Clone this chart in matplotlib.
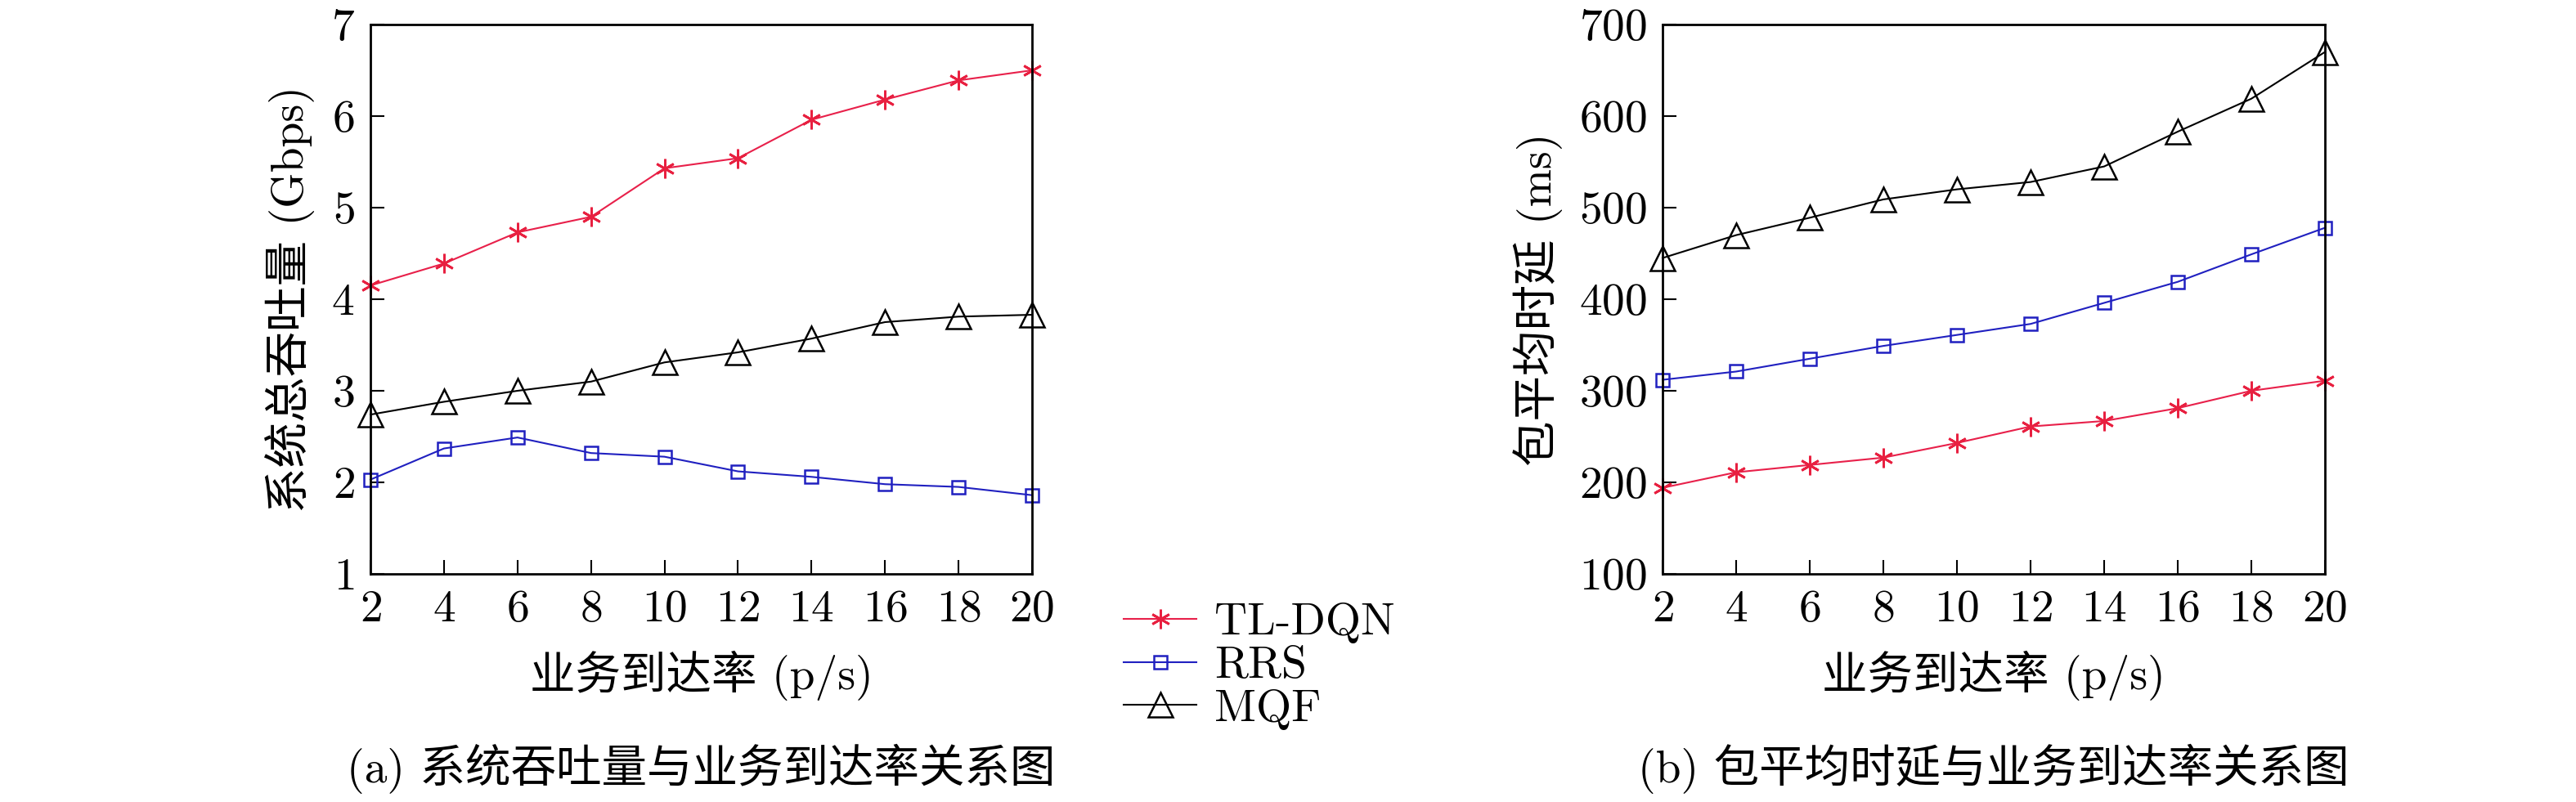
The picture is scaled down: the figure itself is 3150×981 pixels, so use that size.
import matplotlib
matplotlib.use("Agg")
import matplotlib.pyplot as plt

plt.rcParams['font.family'] = ['cmr10', 'Noto Sans CJK SC']
plt.rcParams['axes.formatter.use_mathtext'] = True
plt.rcParams['mathtext.fontset'] = 'cm'

rate = [2, 4, 6, 8, 10, 12, 14, 16, 18, 20]
thr_tl = [4.15, 4.39, 4.73, 4.90, 5.43, 5.54, 5.96, 6.18, 6.39, 6.50]
thr_rrs = [2.03, 2.37, 2.49, 2.32, 2.28, 2.12, 2.06, 1.98, 1.95, 1.86]
thr_mqf = [2.74, 2.88, 3.00, 3.10, 3.31, 3.42, 3.57, 3.75, 3.81, 3.83]
del_tl = [194, 211, 219, 227, 243, 261, 267, 281, 300, 311]
del_rrs = [312, 321, 335, 349, 361, 373, 396, 419, 449, 478]
del_mqf = [445, 470, 489, 509, 520, 528, 545, 583, 619, 670]
labels = ['TL-DQN', 'RRS', 'MQF']

fig = plt.figure(figsize=(31.5, 9.81), dpi=100)
fs = 40
ax1 = fig.add_axes([453/3150, 1 - 702/981, (1262 - 453)/3150, (702 - 30)/981])
ax2 = fig.add_axes([2033/3150, 1 - 702/981, (2843 - 2033)/3150, (702 - 30)/981])

def draw(ax, a, b, c):
    hs = []
    hs += ax.plot(rate, a, color='#e8204a', lw=1.5, marker=(6, 2, 0), ms=17,
                  mec='#e82040', mew=2.0, clip_on=False)
    hs += ax.plot(rate, b, color='#2020c0', lw=1.5, marker='s', ms=12,
                  mfc='none', mec='#2020c0', mew=1.8, clip_on=False)
    hs += ax.plot(rate, c, color='black', lw=1.5, marker='^', ms=21,
                  mfc='none', mec='black', mew=1.8, clip_on=False)
    ax.set_xlim(2, 20)
    ax.set_xticks(rate)
    ax.tick_params(direction='in', labelsize=fs, length=12, width=1.5,
                   pad=14)
    for s in ax.spines.values():
        s.set_linewidth(2)
    return hs

hs = draw(ax1, thr_tl, thr_rrs, thr_mqf)
ax1.set_ylim(1, 7)
ax1.set_ylabel('系统总吞吐量 (Gbps)', fontsize=fs, labelpad=14)
ax1.set_xlabel('业务到达率 (p/s)', fontsize=fs, labelpad=18)

draw(ax2, del_tl, del_rrs, del_mqf)
ax2.set_ylim(100, 700)
ax2.set_ylabel('包平均时延 (ms)', fontsize=fs, labelpad=14)
ax2.set_xlabel('业务到达率 (p/s)', fontsize=fs, labelpad=18)

fig.legend(hs, labels, loc='center', bbox_to_anchor=(1540/3150, 1 - 815/981),
           frameon=False, fontsize=fs, handlelength=1.6, labelspacing=0.05,
           handletextpad=0.4)

fig.text(857/3150, 1 - 940/981, '(a) 系统吞吐量与业务到达率关系图', ha='center',
         va='center', fontsize=fs)
fig.text(2438/3150, 1 - 940/981, '(b) 包平均时延与业务到达率关系图', ha='center',
         va='center', fontsize=fs)

fig.savefig('out.png', dpi=100)
